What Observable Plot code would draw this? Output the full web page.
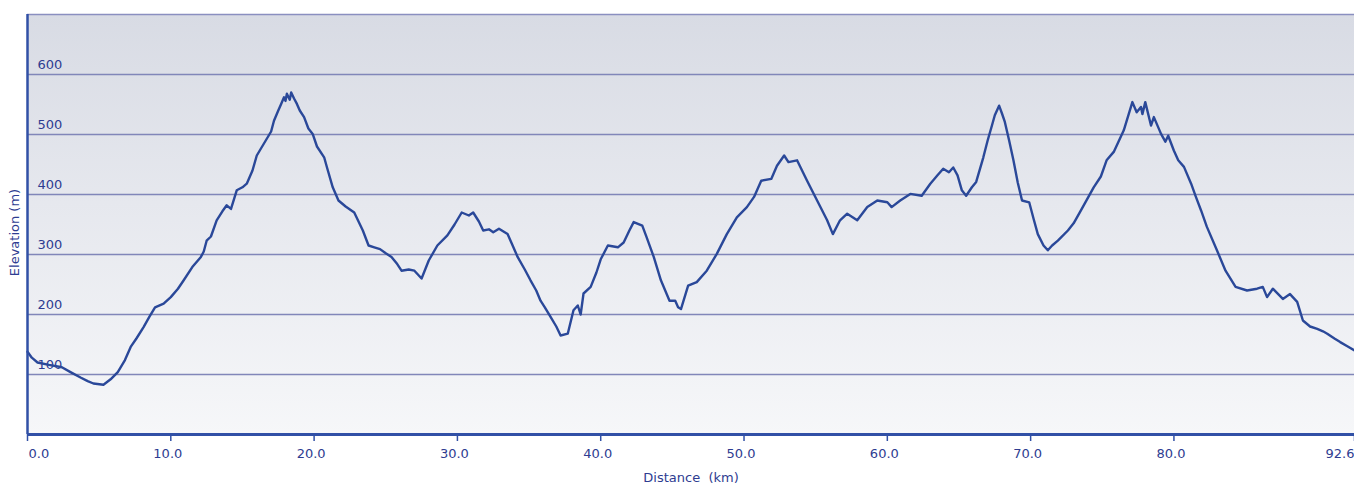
<!DOCTYPE html>
<html><head><meta charset="utf-8">
<script src="https://cdn.jsdelivr.net/npm/d3@7"></script>
<script src="https://cdn.jsdelivr.net/npm/@observablehq/plot@0.6"></script>
<style>
body{margin:0;background:#fff;}
#chart{width:1354px;height:488px;overflow:hidden;}
#chart svg{max-width:none !important;}
</style></head><body><div id="chart"></div>
<script>
const distanceKm = [
  0.0,0.3,0.7,1.5,2.4,3.0,3.7,4.2,4.6,5.3,
  5.8,6.3,6.8,7.2,7.6,8.1,8.5,8.9,9.5,10.0,
  10.5,10.9,11.5,12.1,12.3,12.5,12.8,13.2,13.6,13.9,
  14.2,14.6,15.0,15.3,15.7,16.0,16.5,17.0,17.2,17.5,
  17.7,17.9,18.0,18.1,18.3,18.4,18.6,18.8,19.0,19.3,
  19.6,19.9,20.2,20.7,20.9,21.3,21.7,22.2,22.8,23.1,
  23.4,23.8,24.2,24.6,25.0,25.4,25.8,26.1,26.6,27.0,
  27.5,28.0,28.6,29.3,29.8,30.3,30.8,31.1,31.5,31.8,
  32.2,32.5,32.9,33.5,33.8,34.2,34.7,35.1,35.5,35.8,
  36.1,36.5,36.9,37.2,37.7,38.1,38.4,38.6,38.8,39.3,
  39.7,40.0,40.5,41.2,41.6,42.0,42.3,42.9,43.2,43.7,
  44.2,44.8,45.2,45.4,45.6,46.1,46.7,47.4,48.1,48.8,
  49.5,50.2,50.7,51.2,51.9,52.3,52.8,53.1,53.7,54.4,
  55.1,55.8,56.2,56.7,57.2,57.9,58.6,59.3,60.0,60.3,
  60.9,61.6,62.4,63.0,63.5,63.9,64.3,64.6,64.9,65.2,
  65.5,65.9,66.2,66.7,67.0,67.3,67.5,67.8,68.0,68.2,
  68.5,68.8,69.1,69.4,69.9,70.2,70.5,70.9,71.2,71.5,
  71.9,72.6,73.0,73.5,74.4,74.9,75.3,75.8,76.5,77.1,
  77.4,77.7,77.8,78.0,78.4,78.6,79.1,79.4,79.6,80.0,
  80.3,80.7,81.2,81.5,81.9,82.3,83.0,83.6,84.3,85.1,
  85.8,86.2,86.5,86.9,87.6,88.1,88.6,89.0,89.5,90.0,
  90.4,90.7,91.2,91.6,92.1,92.6
];
const elevationM = [
  138,128,120,116,112,104,95,89,85,83,
  92,104,124,146,160,179,196,212,218,229,
  243,257,279,296,305,323,330,357,372,382,
  376,407,412,418,440,465,485,505,523,540,
  551,562,556,568,558,570,560,551,540,529,
  510,501,480,462,445,412,390,380,370,355,
  340,315,312,309,302,296,284,273,275,273,
  260,290,315,332,350,370,365,370,355,340,
  342,337,343,334,318,296,275,257,240,223,
  212,196,180,165,168,207,215,200,235,246,
  270,292,315,312,320,340,354,348,329,296,
  257,223,223,212,209,248,254,273,301,334,
  362,379,396,423,426,448,465,454,457,423,
  390,357,334,357,368,357,379,390,387,379,
  390,401,398,418,432,443,437,445,432,407,
  398,412,421,462,490,515,532,548,535,521,
  490,457,420,390,387,360,334,315,307,315,
  323,340,352,373,412,430,457,471,507,554,
  537,546,534,554,515,529,501,488,498,473,
  457,446,418,398,373,346,307,273,246,240,
  243,246,229,243,226,234,221,190,180,176,
  172,168,160,154,147,140
];
const xTickValues = [0, 10, 20, 30, 40, 50, 60, 70, 80, 92.6];
const yTickValues = [100, 200, 300, 400, 500, 600];
const xLabel = "Distance\u00a0 (km)";
const yLabel = "Elevation (m)";

const profile = distanceKm.map((d, i) => ({d, e: elevationM[i]}));
const ink = "#2e3c91";
const innerTicks = xTickValues.slice(1, -1);

const chart = Plot.plot({
  width: 1371, height: 488,
  marginLeft: 27, marginRight: 17, marginTop: 14, marginBottom: 54,
  style: {fontFamily: "'DejaVu Sans', Verdana, sans-serif", fontSize: "13px", color: ink, background: "transparent", maxWidth: "none"},
  x: {domain: [0, 92.6], axis: null},
  y: {domain: [0, 700], axis: null},
  marks: [
    Plot.frame({fill: "url(#bgGrad)", stroke: "none"}),
    Plot.ruleY(yTickValues, {stroke: "#8186b9", strokeWidth: 1.5}),
    Plot.ruleY([700], {stroke: "#8a8fc0", strokeWidth: 1.5}),
    Plot.text(yTickValues, {x: 0, y: d => d, text: d => String(d), textAnchor: "start", dx: 10, dy: -10, fill: ink, fontSize: 13}),
    Plot.line(profile, {x: "d", y: "e", stroke: "#2a4899", strokeWidth: 2.4, strokeLinejoin: "round"}),
    Plot.axisX({ticks: xTickValues, tickSize: 7, tickFormat: () => "", label: null, stroke: "#3150a6", strokeWidth: 1.5}),
    Plot.ruleY([0], {stroke: "#3150a6", strokeWidth: 3}),
    Plot.ruleX([0], {stroke: "#3150a6", strokeWidth: 2.5}),
    Plot.text(innerTicks, {x: d => d, frameAnchor: "bottom", lineAnchor: "middle", dy: 19, dx: -3, text: d => d.toFixed(1), fill: ink, fontSize: 13}),
    Plot.text([xTickValues[0]], {x: d => d, frameAnchor: "bottom", lineAnchor: "middle", dy: 19, dx: 1, textAnchor: "start", text: d => d.toFixed(1), fill: ink, fontSize: 13}),
    Plot.text([xTickValues[xTickValues.length - 1]], {x: d => d, frameAnchor: "bottom", lineAnchor: "middle", dy: 19, dx: -29, textAnchor: "start", text: d => d.toFixed(1), fill: ink, fontSize: 13}),
    Plot.text([xLabel], {frameAnchor: "bottom", lineAnchor: "middle", dy: 43, text: d => d, fill: ink, fontSize: 13}),
    Plot.text([yLabel], {frameAnchor: "left", textAnchor: "middle", lineAnchor: "middle", dx: -13, dy: 8, rotate: -90, text: d => d, fill: ink, fontSize: 13})
  ]
});
chart.style.maxWidth = "none";

const svg = d3.select(chart);
const grad = svg.insert("defs", ":first-child").append("linearGradient")
  .attr("id", "bgGrad").attr("x1", 0).attr("y1", 0).attr("x2", 0).attr("y2", 1);
grad.append("stop").attr("offset", "0%").attr("stop-color", "#d8dbe4");
grad.append("stop").attr("offset", "45%").attr("stop-color", "#e6e8ee");
grad.append("stop").attr("offset", "100%").attr("stop-color", "#f6f7f9");

document.getElementById("chart").appendChild(chart);
</script></body></html>
